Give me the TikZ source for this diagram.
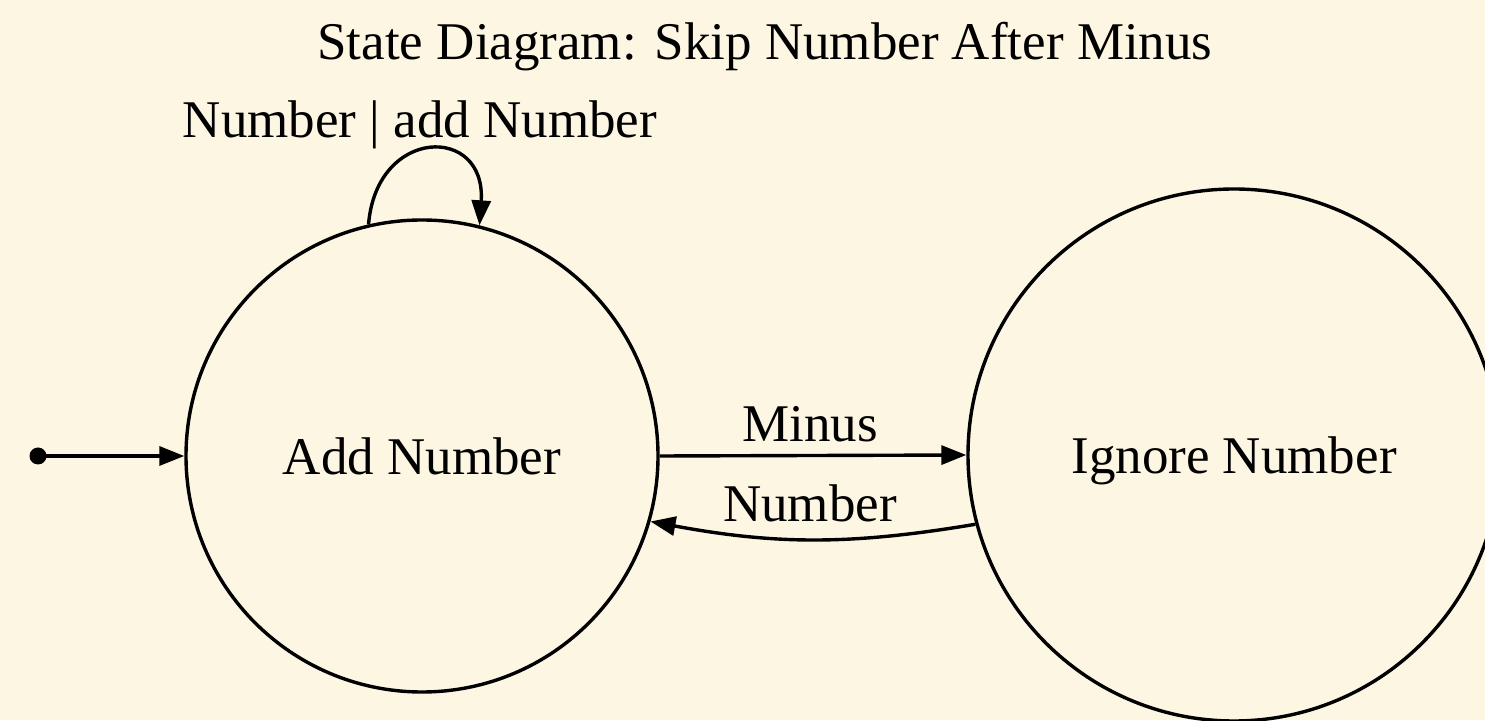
\documentclass[tikz,border=0pt]{standalone}
\usepackage{fontspec}
\setmainfont{Liberation Serif}
\usetikzlibrary{arrows.meta}
\definecolor{bg}{HTML}{FDF6E3}
\begin{document}
\begin{tikzpicture}[x=1pt,y=1pt,
  every node/.style={font=\fontsize{53}{60}\selectfont},
  state/.style={draw,circle,line width=3.4pt,inner sep=0pt,text depth=0pt},
  edge/.style={line width=3.4pt,-{Triangle[length=25pt,width=19pt]}},
  lbl/.style={anchor=base}]
\useasboundingbox (0,0) rectangle (1485,720);
\fill[bg] (0,0) rectangle (1485,720);
\clip (0,0) rectangle (1485,720);
\node[lbl] (title) at (765,660) {State Diagram: Skip Number After Minus};
\node[state,minimum size=472pt] (add) at (422,264) {Add Number};
\node[state,minimum size=532pt] (ign) at (1234,265) {Ignore Number};
\fill (38,264) circle (8.5pt);
\coordinate (init) at (38,264);
\draw[edge] (init) -- (add.west);
\draw[edge] (add.east) -- (ign.west);
\node[lbl] (lminus) at (810,278) {Minus};
\draw[edge] (ign.195) to[bend left=10] (add.-16);
\node[lbl] (lnum) at (810,198) {Number};
\draw[edge] (add.103) .. controls +(8,98) and +(7,101) .. (add.76);
\node[lbl] (lloop) at (420,582) {Number | add Number};
\end{tikzpicture}
\end{document}
